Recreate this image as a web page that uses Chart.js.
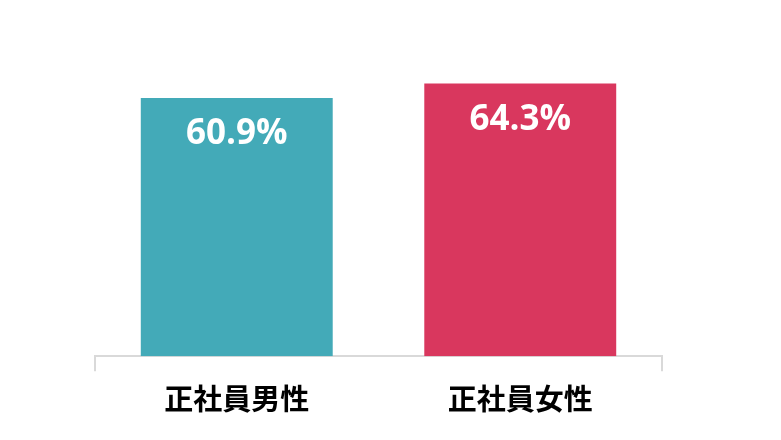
<!DOCTYPE html>
<html>
<head>
<meta charset="utf-8">
<script src="https://cdn.jsdelivr.net/npm/chart.js@4"></script>
<style>
  html, body { margin: 0; padding: 0; background: #fff; }
  #wrap { width: 781px; height: 440px; }
</style>
</head>
<body>
<div id="wrap"><canvas id="bar-chart"></canvas></div>
<script>
// dati del grafico
const categories = ['正社員男性', '正社員女性'];
const values = [60.9, 64.3];
const barColors = ['#43AAB8', '#D9375E'];

// scrive il valore dentro la barra, vicino alla cima
const valueLabels = {
  id: 'valueLabels',
  afterDatasetsDraw(chart) {
    const ctx = chart.ctx;
    const meta = chart.getDatasetMeta(0);
    ctx.save();
    ctx.fillStyle = '#ffffff';
    ctx.font = 'bold 35px "Open Sans", sans-serif';
    ctx.textAlign = 'center';
    ctx.textBaseline = 'middle';
    meta.data.forEach((bar, i) => {
      ctx.fillText(values[i].toFixed(1) + '%', bar.x, bar.y + 36);
    });
    ctx.restore();
  }
};

new Chart(document.getElementById('bar-chart').getContext('2d'), {
  type: 'bar',
  data: {
    labels: categories,
    datasets: [{
      data: values,
      backgroundColor: barColors,
      borderWidth: 0,
      categoryPercentage: 1,
      barPercentage: 0.677
    }]
  },
  options: {
    responsive: true,
    maintainAspectRatio: false,
    animation: false,
    layout: { padding: { left: 95, right: 119, top: 17, bottom: 14 } },
    plugins: { legend: { display: false }, tooltip: { enabled: false } },
    scales: {
      x: {
        grid: {
          drawOnChartArea: false,
          tickLength: 15,
          lineWidth: 2,
          color: (c) => c.index === 1 ? 'rgba(0,0,0,0)' : '#D9D9D9'
        },
        border: { display: true, color: '#D9D9D9', width: 2 },
        ticks: {
          color: '#000000',
          padding: 10,
          font: { family: '"Noto Sans CJK JP", sans-serif', size: 29, weight: 'bold', lineHeight: 1.2 }
        }
      },
      y: {
        display: false,
        min: 0,
        max: 80
      }
    }
  },
  plugins: [valueLabels]
});
</script>
</body>
</html>
